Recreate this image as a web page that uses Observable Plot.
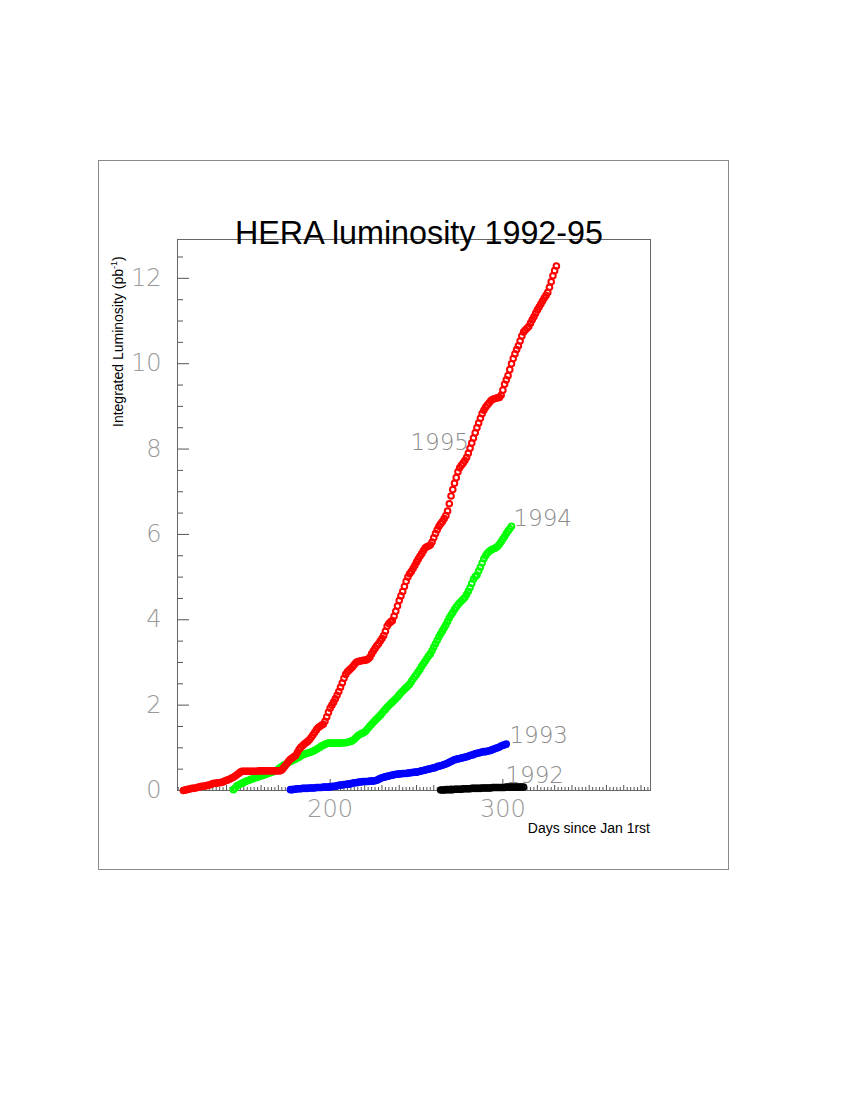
<!DOCTYPE html>
<html><head><meta charset="utf-8">
<script src="https://cdn.jsdelivr.net/npm/d3@7"></script>
<script src="https://cdn.jsdelivr.net/npm/@observablehq/plot@0.6"></script>
<style>
body{margin:0;background:#fff;}
#page{position:relative;width:850px;height:1100px;overflow:hidden;background:#fff;}
#chart{position:absolute;left:0;top:0;}
#outer{position:absolute;left:98px;top:160px;width:629px;height:708px;border:1px solid #8a8a8a;}
#title{position:absolute;left:0;width:838px;text-align:center;top:215px;font:32.3px "Liberation Sans",Arial,sans-serif;color:#000;white-space:nowrap;line-height:36px;}
#ylab{position:absolute;left:110px;top:427px;transform-origin:0 0;transform:rotate(-90deg);font:14px "Liberation Sans",Arial,sans-serif;white-space:nowrap;line-height:16px;color:#000;}
#ylab sup{font-size:9px;line-height:0;}
#xlab{position:absolute;right:200px;top:820px;font:14px "Liberation Sans",Arial,sans-serif;white-space:nowrap;line-height:16px;color:#000;}
</style></head>
<body>
<div id="page">
  <div id="outer"></div>
  <div id="chart"></div>
  <div id="title">HERA luminosity 1992-95</div>
  <div id="ylab">Integrated Luminosity (pb<sup>-1</sup>)</div>
  <div id="xlab">Days since Jan 1rst</div>
</div>
<script>
// ---- data: daily integrated luminosity (pb^-1), one value per day from start day ----
const years = ["1992", "1993", "1994", "1995"];
const yearColors = ["#000000", "#0000ff", "#00ff00", "#ff0000"];

const start1995 = 115;
const lum1995 = [
  0.00,0.01,0.02,0.03,0.04,0.05,0.05,0.06,0.07,0.08,
  0.09,0.10,0.10,0.11,0.12,0.13,0.14,0.16,0.17,0.17,
  0.18,0.18,0.19,0.20,0.22,0.24,0.25,0.27,0.29,0.31,
  0.34,0.37,0.40,0.43,0.45,0.45,0.45,0.45,0.45,0.45,
  0.45,0.45,0.45,0.45,0.46,0.46,0.46,0.46,0.46,0.46,
  0.46,0.46,0.46,0.46,0.46,0.46,0.46,0.48,0.53,0.58,
  0.63,0.69,0.73,0.76,0.79,0.82,0.89,0.96,1.01,1.05,
  1.09,1.12,1.15,1.19,1.24,1.30,1.36,1.42,1.47,1.50,
  1.53,1.55,1.62,1.72,1.83,1.93,2.00,2.07,2.15,2.23,
  2.32,2.42,2.52,2.63,2.72,2.78,2.82,2.86,2.90,2.95,
  3.00,3.02,3.03,3.04,3.05,3.05,3.06,3.08,3.12,3.20,
  3.27,3.33,3.39,3.44,3.50,3.56,3.63,3.73,3.85,3.91,
  3.95,3.98,4.08,4.20,4.32,4.45,4.56,4.66,4.78,4.90,
  5.00,5.08,5.13,5.20,5.27,5.35,5.42,5.49,5.55,5.62,
  5.68,5.71,5.73,5.75,5.82,5.92,6.02,6.11,6.19,6.25,
  6.30,6.37,6.44,6.55,6.72,6.90,7.05,7.20,7.33,7.47,
  7.56,7.62,7.67,7.73,7.80,7.90,8.02,8.14,8.26,8.38,
  8.50,8.61,8.72,8.83,8.91,8.98,9.03,9.08,9.13,9.16,
  9.18,9.19,9.20,9.21,9.26,9.38,9.52,9.62,9.72,9.86,
  10.00,10.12,10.23,10.33,10.42,10.53,10.65,10.74,10.79,10.83,
  10.87,10.95,11.03,11.10,11.18,11.26,11.33,11.40,11.47,11.54,
  11.60,11.67,11.79,11.92,12.06,12.18,12.29
];

const start1994 = 144;
const lum1994 = [
  0.02,0.06,0.11,0.13,0.15,0.17,0.19,0.21,0.23,0.24,
  0.26,0.27,0.29,0.30,0.31,0.33,0.34,0.35,0.37,0.38,
  0.40,0.41,0.43,0.44,0.46,0.47,0.50,0.53,0.56,0.59,
  0.61,0.63,0.66,0.68,0.70,0.72,0.74,0.76,0.78,0.81,
  0.83,0.85,0.86,0.88,0.89,0.90,0.92,0.94,0.96,0.99,
  1.01,1.04,1.06,1.08,1.10,1.11,1.11,1.11,1.11,1.11,
  1.11,1.11,1.11,1.12,1.12,1.12,1.13,1.14,1.15,1.17,
  1.20,1.24,1.28,1.31,1.33,1.35,1.37,1.41,1.46,1.51,
  1.55,1.60,1.64,1.68,1.72,1.76,1.81,1.86,1.90,1.95,
  1.99,2.03,2.07,2.11,2.15,2.19,2.24,2.29,2.33,2.37,
  2.41,2.45,2.49,2.55,2.61,2.67,2.72,2.78,2.84,2.91,
  2.97,3.03,3.09,3.15,3.20,3.28,3.36,3.44,3.52,3.60,
  3.67,3.74,3.81,3.88,3.96,4.04,4.11,4.17,4.24,4.30,
  4.35,4.40,4.44,4.48,4.52,4.59,4.67,4.75,4.85,4.95,
  5.01,5.05,5.14,5.23,5.33,5.43,5.50,5.56,5.60,5.63,
  5.65,5.67,5.69,5.72,5.77,5.83,5.89,5.95,6.02,6.08,
  6.13,6.19
];

const start1993 = 177;
const lum1993 = [
  0.02,0.02,0.03,0.03,0.04,0.04,0.04,0.05,0.05,0.05,
  0.05,0.06,0.06,0.06,0.06,0.07,0.07,0.07,0.07,0.08,
  0.08,0.08,0.08,0.09,0.09,0.10,0.10,0.11,0.12,0.13,
  0.13,0.14,0.14,0.15,0.15,0.16,0.17,0.18,0.18,0.19,
  0.20,0.20,0.21,0.21,0.21,0.21,0.22,0.22,0.22,0.23,
  0.24,0.26,0.28,0.30,0.31,0.32,0.33,0.34,0.35,0.36,
  0.37,0.38,0.38,0.39,0.39,0.40,0.40,0.40,0.41,0.41,
  0.42,0.42,0.43,0.43,0.44,0.45,0.46,0.47,0.48,0.49,
  0.50,0.51,0.52,0.53,0.54,0.56,0.57,0.58,0.59,0.61,
  0.62,0.64,0.66,0.68,0.70,0.72,0.73,0.74,0.75,0.76,
  0.77,0.78,0.79,0.80,0.82,0.83,0.84,0.86,0.87,0.88,
  0.89,0.90,0.91,0.91,0.92,0.93,0.94,0.96,0.97,0.99,
  1.00,1.02,1.04,1.06,1.07,1.09
];

const start1992 = 264;
const lum1992 = [
  0.01,0.01,0.01,0.02,0.02,0.02,0.02,0.02,0.03,0.03,
  0.03,0.03,0.03,0.04,0.04,0.04,0.04,0.04,0.05,0.05,
  0.05,0.05,0.05,0.05,0.06,0.06,0.06,0.06,0.06,0.06,
  0.07,0.07,0.07,0.07,0.07,0.07,0.07,0.07,0.08,0.08,
  0.08,0.08,0.08,0.08,0.08,0.08,0.08,0.08,0.08
];

// series labels (text, day, value)
const labelText = ["1995", "1994", "1993", "1992"];
const labelDay = [246.5, 306.1, 303.8, 301.5];
const labelValue = [8.16, 6.37, 1.29, 0.35];

// axis ticks
const xTickLabels = [200, 300];
const yTickLabels = [0, 2, 4, 6, 8, 10, 12];

// ---- build tables ----
function series(year, start, values) {
  return values.map((v, i) => ({year, day: start + i, lum: v}));
}
const data1992 = series("1992", start1992, lum1992);
const data1993 = series("1993", start1993, lum1993);
const data1994 = series("1994", start1994, lum1994);
const data1995 = series("1995", start1995, lum1995);
const labels = labelText.map((t, i) => ({text: t, day: labelDay[i], lum: labelValue[i]}));

const xMid = d3.range(120, 390, 10).filter(d => !xTickLabels.includes(d));
const xSmall = d3.range(112, 386, 2).filter(d => d % 10 !== 0);
const yMinor = d3.range(0.5, 13, 0.5).filter(d => !yTickLabels.includes(d));

const tickFont = {fontFamily: "'DejaVu Sans ExtraLight', 'DejaVu Sans', sans-serif", fontWeight: 200};
const axisGrey = "#555";
const dotOpts = {x: "day", y: "lum", r: 2.8, strokeWidth: 2, fill: "none"};

const chart = Plot.plot({
  width: 850,
  height: 1100,
  marginLeft: 177,
  marginRight: 200,
  marginTop: 239,
  marginBottom: 310,
  style: {background: "transparent", overflow: "visible"},
  x: {domain: [111.6, 385.5]},
  y: {domain: [0, 12.91]},
  color: {domain: years, range: yearColors},
  marks: [
    // y axis ticks (inward)
    Plot.axisY({ticks: yTickLabels, tickSize: 12, dx: 12, text: null, stroke: axisGrey, label: null}),
    Plot.axisY({ticks: yMinor, tickSize: 6, dx: 6, text: null, stroke: axisGrey, label: null}),
    Plot.axisY({ticks: yTickLabels, tickSize: 0, tickPadding: 16, fontSize: 24, fill: "#999", label: null, ...tickFont}),
    // x axis ticks (inward)
    Plot.axisX({ticks: xTickLabels, tickSize: 11, dy: -11, text: null, stroke: axisGrey, label: null}),
    Plot.axisX({ticks: xMid, tickSize: 5, dy: -5, text: null, stroke: axisGrey, label: null}),
    Plot.axisX({ticks: xSmall, tickSize: 3, dy: -3, text: null, stroke: axisGrey, label: null}),
    Plot.axisX({ticks: xTickLabels, tickSize: 0, tickPadding: 9, fontSize: 24, fill: "#999", label: null, ...tickFont}),
    Plot.frame({stroke: "#666", strokeWidth: 1}),
    // data
    Plot.dot(data1992, {...dotOpts, stroke: "year"}),
    Plot.dot(data1993, {...dotOpts, stroke: "year"}),
    Plot.dot(data1994, {...dotOpts, stroke: "year"}),
    Plot.dot(data1995, {...dotOpts, stroke: "year"}),
    Plot.text(labels, {x: "day", y: "lum", text: "text", textAnchor: "start", fontSize: 23, fill: "#8c8c8c", ...tickFont})
  ]
});
document.getElementById("chart").appendChild(chart);
</script>
</body></html>
